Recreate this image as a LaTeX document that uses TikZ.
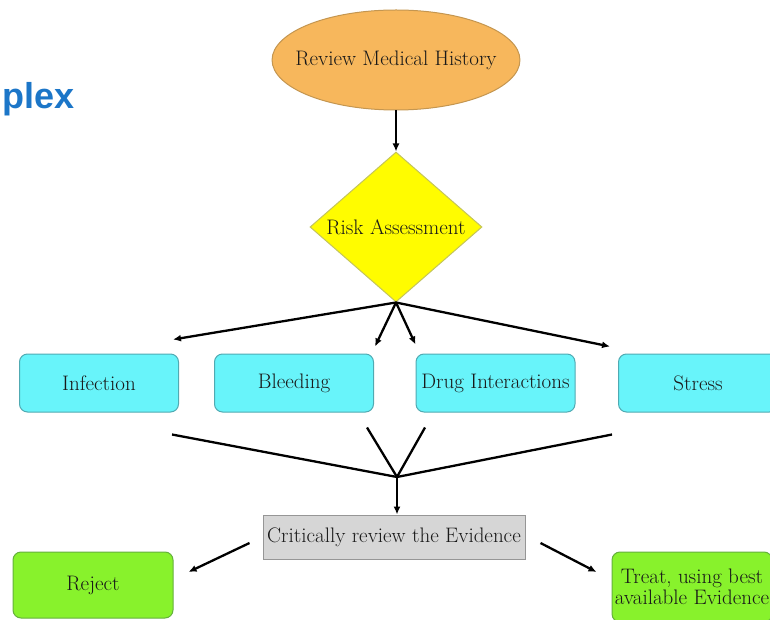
\documentclass[tikz,border=0pt]{standalone}
\usepackage{fontspec}
\newfontfamily\titlefont{Liberation Sans}
\usetikzlibrary{arrows.meta,shapes.geometric,positioning}
\definecolor{histfill}{RGB}{247,183,92}
\definecolor{histline}{RGB}{196,150,80}
\definecolor{riskfill}{RGB}{255,252,0}
\definecolor{riskline}{RGB}{196,196,90}
\definecolor{factfill}{RGB}{104,244,250}
\definecolor{factline}{RGB}{80,170,178}
\definecolor{evidfill}{RGB}{214,214,214}
\definecolor{evidline}{RGB}{150,150,150}
\definecolor{outfill}{RGB}{136,242,44}
\definecolor{outline}{RGB}{100,176,60}
\definecolor{titleblue}{RGB}{28,118,200}

\begin{document}
\begin{tikzpicture}[x=1pt, y=1pt, every node/.style={font=\fontsize{21}{23}\selectfont, text=black!90},
	flow/.style={line width=2.3pt, -{Latex[length=8pt,width=7pt]}},
	feed/.style={line width=2.3pt},
	factor/.style={draw=factline, fill=factfill, line width=1pt, rounded corners=8pt, minimum width=159pt, minimum height=58pt, inner sep=0pt},
	outcome/.style={draw=outline, fill=outfill, line width=1pt, rounded corners=8pt, minimum width=160pt, minimum height=66pt, inner sep=0pt, align=center}]
	\useasboundingbox (0,0) rectangle (770,-620);
	\clip (0,0) rectangle (770,-620);
	\node[anchor=base west, text=titleblue, font=\titlefont\bfseries\fontsize{36}{40}\selectfont] (title) at (-1,-109) {plex};
	\node[ellipse, draw=histline, fill=histfill, line width=1pt, minimum width=246pt, minimum height=100pt, inner xsep=-13pt, inner ysep=0pt] (history) at (396,-60) {Review Medical History};
	\node[diamond, draw=riskline, fill=riskfill, line width=1pt, aspect=1.15, minimum width=172pt, minimum height=150pt, inner sep=0pt] (risk) at (396,-227) {Risk Assessment};
	\node[factor] (infection) at (99,-383) {Infection};
	\node[factor] (bleeding) at (294,-383) {Bleeding};
	\node[factor] (drug) at (495.5,-383) {Drug Interactions};
	\node[factor] (stress) at (698,-383) {Stress};
	\node[draw=evidline, fill=evidfill, line width=1pt, minimum width=262pt, minimum height=44pt, inner sep=0pt] (evidence) at (394,-537) {Critically review the Evidence};
	\node[outcome] (reject) at (93,-585) {Reject};
	\node[outcome, minimum height=70pt, font=\fontsize{21}{21}\selectfont] (treat) at (692,-587) {Treat, using best\\available Evidence};
	\coordinate (merge) at (397,-477);
	\draw[flow] (history.south) -- (risk.north);
	\draw[flow] (risk.south) -- ([xshift=74pt,yshift=14pt]infection.north);
	\draw[flow] (risk.south) -- ([xshift=81pt,yshift=7pt]bleeding.north);
	\draw[flow] (risk.south) -- ([xshift=-80pt,yshift=9pt]drug.north);
	\draw[flow] (risk.south) -- ([xshift=-88pt,yshift=7pt]stress.north);
	\draw[feed] ([xshift=73pt,yshift=-22pt]infection.south) -- (merge);
	\draw[feed] ([xshift=73pt,yshift=-15pt]bleeding.south) -- (merge);
	\draw[feed] ([xshift=-70.5pt,yshift=-15pt]drug.south) -- (merge);
	\draw[feed] ([xshift=-86pt,yshift=-22pt]stress.south) -- (merge);
	\draw[flow] (merge) -- (merge |- evidence.north);
	\draw[flow] ([xshift=-13pt,yshift=-6pt]evidence.west) -- ([xshift=15pt,yshift=13pt]reject.east);
	\draw[flow] ([xshift=15pt,yshift=-6pt]evidence.east) -- ([xshift=-15pt,yshift=15pt]treat.west);
\end{tikzpicture}
\end{document}
